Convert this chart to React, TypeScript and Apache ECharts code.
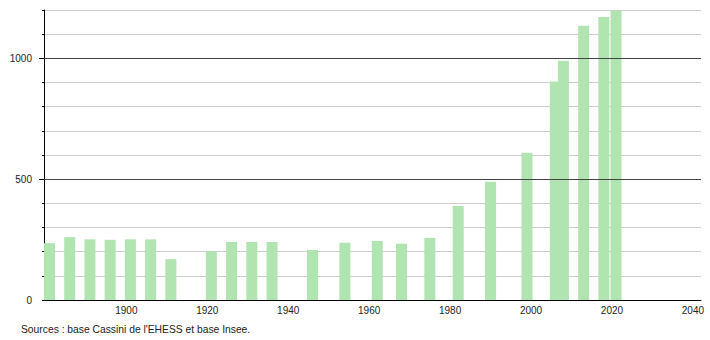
import React, { useEffect, useRef } from "react";
import * as echarts from "echarts";

const years = [1881, 1886, 1891, 1896, 1901, 1906, 1911, 1921, 1926, 1931, 1936, 1946, 1954, 1962, 1968, 1975, 1982, 1990, 1999, 2006, 2008, 2013, 2018, 2021];
const population = [235, 260, 251, 249, 251, 251, 169, 202, 240, 240, 240, 207, 237, 244, 233, 257, 389, 489, 609, 904, 990, 1135, 1171, 1197];
const xTickLabels = [1900, 1920, 1940, 1960, 1980, 2000, 2020, 2040];
const yLabelValues = [0, 500, 1000];
const yMajorLines = [500, 1000];
const sourceText = "Sources : base Cassini de l'EHESS et base Insee.";

export default function App() {
  const ref = useRef<HTMLDivElement>(null);
  useEffect(() => {
    if (!ref.current) return;
    const chart = echarts.init(ref.current, undefined, { renderer: "svg" });
    const font = "'Liberation Sans', Arial, sans-serif";
    chart.setOption({
      animation: false,
      backgroundColor: "#ffffff",
      grid: { left: 44, right: 9, top: 10, bottom: 40, containLabel: false },
      xAxis: {
        type: "value",
        min: 1879.65,
        max: 2042,
        axisLine: { show: true, onZero: false, lineStyle: { color: "#000", width: 1 } },
        axisTick: { show: false, customValues: xTickLabels },
        axisLabel: {
          customValues: xTickLabels,
          color: "#222",
          fontSize: 10,
          fontFamily: font,
          margin: 5,
          formatter: (v: number) => String(Math.round(v)),
        },
        splitLine: { show: false },
      },
      yAxis: [
        {
          type: "value",
          min: 0,
          max: 1200,
          interval: 100,
          axisLine: { show: true, lineStyle: { color: "#000", width: 1 } },
          axisTick: { show: true, length: 2, lineStyle: { color: "#000" } },
          axisLabel: {
            color: "#222",
            fontSize: 10,
            fontFamily: font,
            margin: 12,
            formatter: (v: number) => (yLabelValues.indexOf(v) >= 0 ? String(v) : ""),
          },
          splitLine: { show: true, lineStyle: { color: "#cccccc", width: 1 } },
        },
        {
          type: "value",
          min: 0,
          max: 1200,
          interval: 500,
          position: "left",
          axisLine: { show: false },
          axisTick: { show: true, length: 5, customValues: yMajorLines, lineStyle: { color: "#000" } },
          axisLabel: { show: false },
          splitLine: { show: false },
        },
      ],
      series: [
        {
          type: "line",
          xAxisIndex: 0,
          yAxisIndex: 0,
          z: 1,
          data: [],
          markLine: {
            silent: true,
            symbol: "none",
            label: { show: false },
            lineStyle: { color: "#444444", type: "solid", width: 1 },
            data: yMajorLines.map((v) => ({ yAxis: v })),
          },
        },
        {
          type: "bar",
          xAxisIndex: 0,
          yAxisIndex: 0,
          z: 2,
          barWidth: 11,
          itemStyle: { color: "#b0e4b0" },
          data: years.map((y, i) => [y, population[i]]),
        },
      ],
      graphic: [
        {
          type: "text",
          left: 21,
          top: 324,
          style: { text: sourceText, fill: "#222", font: `10.3px ${font}` },
        },
      ],
    });
    return () => chart.dispose();
  }, []);
  return <div ref={ref} style={{ position: "fixed", left: 0, top: 0, width: 710, height: 340 }} />;
}
